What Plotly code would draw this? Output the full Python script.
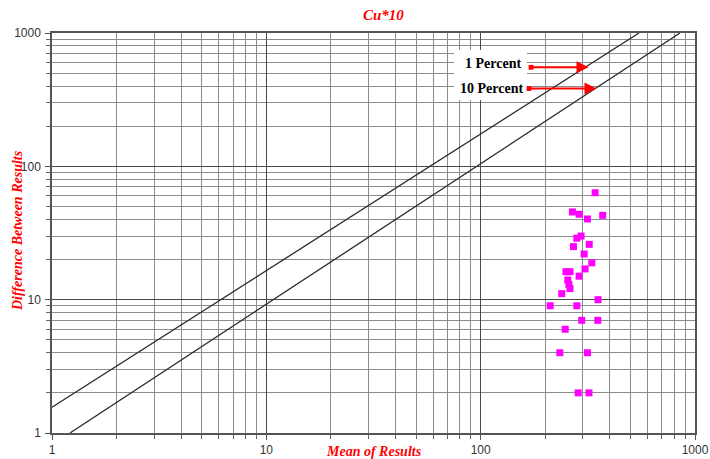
import plotly.graph_objects as go

# Paired sample results: mean of the pair vs. absolute difference
mean_results = [342, 268, 288, 371, 315, 294, 281, 321, 271, 304, 330, 307,
                250, 261, 288, 255, 258, 261, 239, 353, 211, 281, 296, 352,
                248, 234, 315, 285, 320]
diff_results = [63.4, 45.5, 43.7, 42.9, 40.3, 30.0, 28.9, 26.0, 25.0, 22.0, 18.9, 17.0,
                16.2, 16.2, 15.0, 14.05, 13.0, 12.1, 11.1, 10.0, 9.0, 9.0, 7.0, 7.0,
                6.0, 4.0, 4.0, 2.0, 2.0]

# Precision control lines (end points)
pct1_x = [1, 548]
pct1_y = [1.56, 1000]
pct10_x = [1.213, 851]
pct10_y = [1, 1000]

major_vals = [1, 10, 100, 1000]
major_text = ["1", "10", "100", "1000"]
minor_vals = [m * 10 ** k for k in range(3) for m in range(2, 10)]

fig = go.Figure()

fig.add_trace(go.Scatter(x=pct1_x, y=pct1_y, mode="lines",
                         line=dict(color="#2a2a2a", width=1.3), hoverinfo="skip"))
fig.add_trace(go.Scatter(x=pct10_x, y=pct10_y, mode="lines",
                         line=dict(color="#2a2a2a", width=1.3), hoverinfo="skip"))
fig.add_trace(go.Scatter(x=mean_results, y=diff_results, mode="markers",
                         marker=dict(symbol="square", size=7, color="#ff00ff",
                                     line=dict(width=0))))

axis_common = dict(
    type="log", range=[0, 3], automargin=False,
    tickmode="array", tickvals=major_vals, ticktext=major_text,
    showgrid=True, gridcolor="#4a4a4a", gridwidth=1,
    ticks="outside", ticklen=5, tickcolor="#555555",
    showline=True, linecolor="#555555", linewidth=1.5, mirror=True,
    tickfont=dict(family="Liberation Sans, Arial", size=12, color="#333333"),
    zeroline=False,
    minor=dict(tickmode="array", tickvals=minor_vals, showgrid=True,
               gridcolor="#8c8c8c", gridwidth=1, ticks="outside", ticklen=4,
               tickcolor="#666666"),
)
fig.update_xaxes(**axis_common)
fig.update_yaxes(**axis_common)
fig.update_yaxes(ticklabelstandoff=2)

title_font = dict(family="Liberation Serif, Times New Roman", size=14, color="#ff0000")
label_font = dict(family="Liberation Serif, Times New Roman", size=14, color="black")


def px_x(p):
    return (p - 52) / 643


def px_y(p):
    return (433 - p) / 400


# White label panel behind the line legends
fig.add_shape(type="rect", xref="paper", yref="paper",
              x0=px_x(454), x1=px_x(527), y0=px_y(100), y1=px_y(50),
              fillcolor="white", line=dict(width=0), layer="above")

fig.add_annotation(x=px_x(493), y=px_y(63.5), xref="paper", yref="paper",
                   xanchor="center", yanchor="middle",
                   text="<b>1 Percent</b>", showarrow=False, font=label_font)
fig.add_annotation(x=px_x(491), y=px_y(88.5), xref="paper", yref="paper",
                   xanchor="center", yanchor="middle",
                   text="<b>10 Percent</b>", showarrow=False, font=label_font)

# Red arrows pointing at each control line
for tail, tip, yy in [(529.5, 588.5, 67.3), (527.5, 596.5, 88.5)]:
    fig.add_annotation(x=px_x(tip), y=px_y(yy),
                       xref="paper", yref="paper", axref="pixel", ayref="pixel",
                       ax=tail - tip, ay=0,
                       text="", showarrow=True, arrowhead=2, arrowsize=1.2,
                       arrowwidth=2, arrowcolor="#ff0000", arrowside="end+start",
                       startarrowhead=7, startarrowsize=0.6)

# Titles
fig.add_annotation(x=px_x(383), y=px_y(15), xref="paper", yref="paper",
                   xanchor="center", yanchor="middle",
                   text="<b><i>Cu*10</i></b>", showarrow=False,
                   font=dict(family="Liberation Serif, Times New Roman", size=15, color="#ff0000"))
fig.add_annotation(x=px_x(374), y=px_y(451), xref="paper", yref="paper",
                   xanchor="center", yanchor="middle",
                   text="<b><i>Mean of Results</i></b>", showarrow=False, font=title_font)
fig.add_annotation(x=px_x(17), y=px_y(231), xref="paper", yref="paper",
                   xanchor="center", yanchor="middle",
                   text="<b><i>Difference Between Results</i></b>", showarrow=False,
                   textangle=-90, font=title_font)

fig.update_layout(
    width=710, height=459,
    margin=dict(l=52, r=15, t=33, b=26),
    paper_bgcolor="white", plot_bgcolor="white",
    showlegend=False,
)

fig.write_html("out.html")
